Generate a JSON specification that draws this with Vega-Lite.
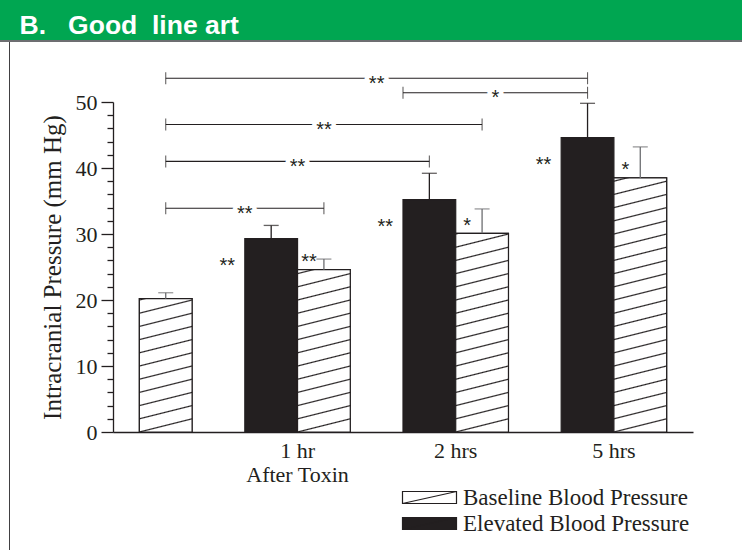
{
  "$schema": "https://vega.github.io/schema/vega-lite/v6.json",
  "padding": 0,
  "background": "#ffffff",
  "spacing": 0,
  "config": {"view": {"stroke": null}, "font": "Liberation Serif"},
  "datasets": {
    "bars": [
      {"time": "Baseline", "type": "Baseline Blood Pressure", "bar": "Baseline", "value": 20.2, "upper": 21.1, "sig": ""},
      {"time": "1 hr", "type": "Elevated Blood Pressure", "bar": "1 hr Elevated", "value": 29.3, "upper": 31.3, "sig": "**"},
      {"time": "1 hr", "type": "Baseline Blood Pressure", "bar": "1 hr Baseline", "value": 24.6, "upper": 26.2, "sig": "**"},
      {"time": "2 hrs", "type": "Elevated Blood Pressure", "bar": "2 hrs Elevated", "value": 35.2, "upper": 39.2, "sig": "**"},
      {"time": "2 hrs", "type": "Baseline Blood Pressure", "bar": "2 hrs Baseline", "value": 30.1, "upper": 33.8, "sig": "*"},
      {"time": "5 hrs", "type": "Elevated Blood Pressure", "bar": "5 hrs Elevated", "value": 44.6, "upper": 49.8, "sig": "**"},
      {"time": "5 hrs", "type": "Baseline Blood Pressure", "bar": "5 hrs Baseline", "value": 38.5, "upper": 43.2, "sig": "*"}
    ],
    "brackets": [
      {"id": 1, "from": "Baseline", "to": "5 hrs Elevated", "level": 53.6, "sig": "**", "labelAt": "gap 2"},
      {"id": 2, "from": "2 hrs Elevated", "to": "5 hrs Elevated", "level": 51.4, "sig": "*", "labelAt": "2 hrs Baseline"},
      {"id": 3, "from": "Baseline", "to": "2 hrs Baseline", "level": 46.6, "sig": "**", "labelAt": "1 hr Baseline"},
      {"id": 4, "from": "Baseline", "to": "2 hrs Elevated", "level": 41.0, "sig": "**", "labelAt": "1 hr Elevated"},
      {"id": 5, "from": "Baseline", "to": "1 hr Baseline", "level": 33.9, "sig": "**", "labelAt": "gap 1"}
    ]
  },
  "vconcat": [
    {
      "width": 742,
      "height": 42,
      "view": {"fill": {"gradient": "linear", "x1": 0, "y1": 0, "x2": 0, "y2": 1, "stops": [{"offset": 0, "color": "#00a651"}, {"offset": 0.952, "color": "#00a651"}, {"offset": 0.952, "color": "#6d6e71"}, {"offset": 1, "color": "#6d6e71"}]}},
      "data": {"values": []},
      "mark": "point",
      "encoding": {
        "x": {"field": "h", "type": "quantitative", "scale": {"domain": [0, 1]},
          "axis": {"orient": "top", "domain": false, "ticks": false, "labels": false, "grid": false, "title": "B.\u00a0\u00a0\u00a0Good\u00a0\u00a0line art", "titleFont": "Liberation Sans", "titleFontSize": 26.5, "titleFontWeight": "bold", "titleColor": "#ffffff", "titleAlign": "left", "titleAnchor": "start", "titleBaseline": "alphabetic", "titleX": 19, "titleY": 33, "titlePadding": 0}}
      }
    },
    {
      "spacing": 29,
      "hconcat": [
        {
          "width": 11,
          "height": 508,
          "view": {"fill": {"gradient": "linear", "x1": 0, "y1": 0, "x2": 1, "y2": 0, "stops": [{"offset": 0, "color": "#ffffff"}, {"offset": 0.8, "color": "#ffffff"}, {"offset": 0.8, "color": "#414042"}, {"offset": 0.93, "color": "#414042"}, {"offset": 0.93, "color": "#ffffff"}, {"offset": 1, "color": "#ffffff"}]}},
          "data": {"values": []},
          "mark": "rect"
        },
        {
          "spacing": 0,
          "vconcat": [
            {"width": 1, "height": 30, "data": {"values": []}, "mark": "rect"},
            {
              "width": 580,
              "height": 330,
              "resolve": {"axis": {"y": "independent"}},
              "layer": [
                {
                  "data": {"name": "bars"},
                  "mark": {"type": "bar", "stroke": "#231f20", "strokeWidth": 1.2},
                  "encoding": {
                    "x": {"field": "bar", "type": "nominal", "scale": {"type": "band", "domain": ["Baseline", "gap 1", "1 hr Elevated", "1 hr Baseline", "gap 2", "2 hrs Elevated", "2 hrs Baseline", "gap 3", "5 hrs Elevated", "5 hrs Baseline"], "paddingInner": 0, "paddingOuter": 0.5},
                      "axis": {"title": null, "values": ["1 hr Elevated", "2 hrs Elevated", "5 hrs Elevated"], "labelExpr": "datum.value === '1 hr Elevated' ? ['1 hr', 'After Toxin'] : replace(datum.value, ' Elevated', '')", "labelOffset": 26.36, "ticks": false, "labelAngle": 0, "labelFont": "Liberation Serif", "labelFontSize": 22, "labelColor": "#231f20", "labelPadding": 8, "labelLineHeight": 24, "labelBaseline": "top", "domainColor": "#231f20", "domainWidth": 1.3}},
                    "y": {"field": "value", "type": "quantitative", "scale": {"domain": [0, 50], "nice": false},
                      "axis": {"orient": "left", "title": "Intracranial Pressure (mm Hg)", "values": [0, 2, 4, 6, 8, 10, 12, 14, 16, 18, 20, 22, 24, 26, 28, 30, 32, 34, 36, 38, 40, 42, 44, 46, 48, 50], "labelExpr": "datum.value % 10 === 0 ? datum.label : ''", "labelOverlap": false, "labelFlush": false, "labelBound": false, "grid": false, "tickSize": 12, "tickDash": {"condition": {"test": "datum.value % 10 !== 0", "value": [6, 40]}, "value": [40, 0]}, "tickColor": "#231f20", "tickWidth": 1.3, "domainColor": "#231f20", "domainWidth": 1.3, "labelFont": "Liberation Serif", "labelFontSize": 22, "labelColor": "#231f20", "labelPadding": 4, "titleFont": "Liberation Serif", "titleFontSize": 25, "titleFontWeight": "normal", "titleColor": "#231f20", "titlePadding": 10}},
                    "color": {"field": "type", "type": "nominal", "scale": {"domain": ["Baseline Blood Pressure", "Elevated Blood Pressure"], "range": ["#ffffff", "#231f20"]},
                      "legend": {"title": null, "orient": "none", "legendX": 439, "legendY": 486, "direction": "vertical", "symbolType": "M-8,-1H1V1H-8Z M-8,1L1,-1", "symbolSize": 144, "symbolStrokeColor": "#231f20", "symbolStrokeWidth": 1.2, "labelFont": "Liberation Serif", "labelFontSize": 23, "labelColor": "#231f20", "labelOffset": 1, "labelLimit": 0, "rowPadding": 2, "padding": 0}}
                  }
                },
                {
                  "data": {"name": "bars"},
                  "transform": [{"filter": {"field": "bar", "equal": "Baseline"}}],
                  "mark": {"type": "bar", "stroke": "#231f20", "strokeWidth": 1.2, "fill": {"gradient": "linear", "x1": 0, "y1": 1.09901, "x2": -0.10776, "y2": 0.01067, "stops": [
                    {"offset": 0, "color": "#ffffff"},
                    {"offset": 0.0819, "color": "#ffffff"}, {"offset": 0.0901, "color": "#231f20"}, {"offset": 0.0983, "color": "#ffffff"},
                    {"offset": 0.1720, "color": "#ffffff"}, {"offset": 0.1802, "color": "#231f20"}, {"offset": 0.1884, "color": "#ffffff"},
                    {"offset": 0.2621, "color": "#ffffff"}, {"offset": 0.2703, "color": "#231f20"}, {"offset": 0.2785, "color": "#ffffff"},
                    {"offset": 0.3522, "color": "#ffffff"}, {"offset": 0.3604, "color": "#231f20"}, {"offset": 0.3686, "color": "#ffffff"},
                    {"offset": 0.4423, "color": "#ffffff"}, {"offset": 0.4505, "color": "#231f20"}, {"offset": 0.4587, "color": "#ffffff"},
                    {"offset": 0.5323, "color": "#ffffff"}, {"offset": 0.5405, "color": "#231f20"}, {"offset": 0.5487, "color": "#ffffff"},
                    {"offset": 0.6224, "color": "#ffffff"}, {"offset": 0.6306, "color": "#231f20"}, {"offset": 0.6388, "color": "#ffffff"},
                    {"offset": 0.7125, "color": "#ffffff"}, {"offset": 0.7207, "color": "#231f20"}, {"offset": 0.7289, "color": "#ffffff"},
                    {"offset": 0.8026, "color": "#ffffff"}, {"offset": 0.8108, "color": "#231f20"}, {"offset": 0.8190, "color": "#ffffff"},
                    {"offset": 0.8927, "color": "#ffffff"}, {"offset": 0.9009, "color": "#231f20"}, {"offset": 0.9091, "color": "#ffffff"},
                    {"offset": 0.9828, "color": "#ffffff"}, {"offset": 0.9910, "color": "#231f20"}, {"offset": 0.9992, "color": "#ffffff"}]}},
                  "encoding": {
                    "x": {"field": "bar", "type": "nominal", "scale": {"type": "band", "domain": ["Baseline", "gap 1", "1 hr Elevated", "1 hr Baseline", "gap 2", "2 hrs Elevated", "2 hrs Baseline", "gap 3", "5 hrs Elevated", "5 hrs Baseline"], "paddingInner": 0, "paddingOuter": 0.5}},
                    "y": {"field": "value", "type": "quantitative", "scale": {"domain": [0, 50], "nice": false}, "axis": null}
                  }
                },
                {
                  "data": {"name": "bars"},
                  "transform": [{"filter": {"field": "bar", "equal": "1 hr Baseline"}}],
                  "mark": {"type": "bar", "stroke": "#231f20", "strokeWidth": 1.2, "fill": {"gradient": "linear", "x1": 0, "y1": 1.081301, "x2": -0.087333, "y2": 0.0071, "stops": [
                    {"offset": 0, "color": "#ffffff"},
                    {"offset": 0.0684, "color": "#ffffff"}, {"offset": 0.0752, "color": "#231f20"}, {"offset": 0.0820, "color": "#ffffff"},
                    {"offset": 0.1436, "color": "#ffffff"}, {"offset": 0.1504, "color": "#231f20"}, {"offset": 0.1572, "color": "#ffffff"},
                    {"offset": 0.2188, "color": "#ffffff"}, {"offset": 0.2256, "color": "#231f20"}, {"offset": 0.2324, "color": "#ffffff"},
                    {"offset": 0.2940, "color": "#ffffff"}, {"offset": 0.3008, "color": "#231f20"}, {"offset": 0.3076, "color": "#ffffff"},
                    {"offset": 0.3691, "color": "#ffffff"}, {"offset": 0.3759, "color": "#231f20"}, {"offset": 0.3827, "color": "#ffffff"},
                    {"offset": 0.4443, "color": "#ffffff"}, {"offset": 0.4511, "color": "#231f20"}, {"offset": 0.4579, "color": "#ffffff"},
                    {"offset": 0.5195, "color": "#ffffff"}, {"offset": 0.5263, "color": "#231f20"}, {"offset": 0.5331, "color": "#ffffff"},
                    {"offset": 0.5947, "color": "#ffffff"}, {"offset": 0.6015, "color": "#231f20"}, {"offset": 0.6083, "color": "#ffffff"},
                    {"offset": 0.6699, "color": "#ffffff"}, {"offset": 0.6767, "color": "#231f20"}, {"offset": 0.6835, "color": "#ffffff"},
                    {"offset": 0.7451, "color": "#ffffff"}, {"offset": 0.7519, "color": "#231f20"}, {"offset": 0.7587, "color": "#ffffff"},
                    {"offset": 0.8203, "color": "#ffffff"}, {"offset": 0.8271, "color": "#231f20"}, {"offset": 0.8339, "color": "#ffffff"},
                    {"offset": 0.8955, "color": "#ffffff"}, {"offset": 0.9023, "color": "#231f20"}, {"offset": 0.9091, "color": "#ffffff"},
                    {"offset": 0.9706, "color": "#ffffff"}, {"offset": 0.9774, "color": "#231f20"}, {"offset": 0.9842, "color": "#ffffff"}]}},
                  "encoding": {
                    "x": {"field": "bar", "type": "nominal", "scale": {"type": "band", "domain": ["Baseline", "gap 1", "1 hr Elevated", "1 hr Baseline", "gap 2", "2 hrs Elevated", "2 hrs Baseline", "gap 3", "5 hrs Elevated", "5 hrs Baseline"], "paddingInner": 0, "paddingOuter": 0.5}},
                    "y": {"field": "value", "type": "quantitative", "scale": {"domain": [0, 50], "nice": false}, "axis": null}
                  }
                },
                {
                  "data": {"name": "bars"},
                  "transform": [{"filter": {"field": "bar", "equal": "2 hrs Baseline"}}],
                  "mark": {"type": "bar", "stroke": "#231f20", "strokeWidth": 1.2, "fill": {"gradient": "linear", "x1": 0, "y1": 1.066445, "x2": -0.070549, "y2": 0.004688, "stops": [
                    {"offset": 0, "color": "#ffffff"},
                    {"offset": 0.0566, "color": "#ffffff"}, {"offset": 0.0623, "color": "#231f20"}, {"offset": 0.0680, "color": "#ffffff"},
                    {"offset": 0.1189, "color": "#ffffff"}, {"offset": 0.1246, "color": "#231f20"}, {"offset": 0.1303, "color": "#ffffff"},
                    {"offset": 0.1812, "color": "#ffffff"}, {"offset": 0.1869, "color": "#231f20"}, {"offset": 0.1926, "color": "#ffffff"},
                    {"offset": 0.2435, "color": "#ffffff"}, {"offset": 0.2492, "color": "#231f20"}, {"offset": 0.2549, "color": "#ffffff"},
                    {"offset": 0.3058, "color": "#ffffff"}, {"offset": 0.3115, "color": "#231f20"}, {"offset": 0.3172, "color": "#ffffff"},
                    {"offset": 0.3681, "color": "#ffffff"}, {"offset": 0.3738, "color": "#231f20"}, {"offset": 0.3795, "color": "#ffffff"},
                    {"offset": 0.4304, "color": "#ffffff"}, {"offset": 0.4361, "color": "#231f20"}, {"offset": 0.4418, "color": "#ffffff"},
                    {"offset": 0.4927, "color": "#ffffff"}, {"offset": 0.4984, "color": "#231f20"}, {"offset": 0.5041, "color": "#ffffff"},
                    {"offset": 0.5550, "color": "#ffffff"}, {"offset": 0.5607, "color": "#231f20"}, {"offset": 0.5664, "color": "#ffffff"},
                    {"offset": 0.6174, "color": "#ffffff"}, {"offset": 0.6231, "color": "#231f20"}, {"offset": 0.6288, "color": "#ffffff"},
                    {"offset": 0.6797, "color": "#ffffff"}, {"offset": 0.6854, "color": "#231f20"}, {"offset": 0.6911, "color": "#ffffff"},
                    {"offset": 0.7420, "color": "#ffffff"}, {"offset": 0.7477, "color": "#231f20"}, {"offset": 0.7534, "color": "#ffffff"},
                    {"offset": 0.8043, "color": "#ffffff"}, {"offset": 0.8100, "color": "#231f20"}, {"offset": 0.8157, "color": "#ffffff"},
                    {"offset": 0.8666, "color": "#ffffff"}, {"offset": 0.8723, "color": "#231f20"}, {"offset": 0.8780, "color": "#ffffff"},
                    {"offset": 0.9289, "color": "#ffffff"}, {"offset": 0.9346, "color": "#231f20"}, {"offset": 0.9403, "color": "#ffffff"},
                    {"offset": 0.9912, "color": "#ffffff"}, {"offset": 0.9969, "color": "#231f20"}, {"offset": 1, "color": "#ffffff"}]}},
                  "encoding": {
                    "x": {"field": "bar", "type": "nominal", "scale": {"type": "band", "domain": ["Baseline", "gap 1", "1 hr Elevated", "1 hr Baseline", "gap 2", "2 hrs Elevated", "2 hrs Baseline", "gap 3", "5 hrs Elevated", "5 hrs Baseline"], "paddingInner": 0, "paddingOuter": 0.5}},
                    "y": {"field": "value", "type": "quantitative", "scale": {"domain": [0, 50], "nice": false}, "axis": null}
                  }
                },
                {
                  "data": {"name": "bars"},
                  "transform": [{"filter": {"field": "bar", "equal": "5 hrs Baseline"}}],
                  "mark": {"type": "bar", "stroke": "#231f20", "strokeWidth": 1.2, "fill": {"gradient": "linear", "x1": 0, "y1": 1.051948, "x2": -0.0545, "y2": 0.002831, "stops": [
                    {"offset": 0, "color": "#ffffff"},
                    {"offset": 0.0449, "color": "#ffffff"}, {"offset": 0.0494, "color": "#231f20"}, {"offset": 0.0539, "color": "#ffffff"},
                    {"offset": 0.0943, "color": "#ffffff"}, {"offset": 0.0988, "color": "#231f20"}, {"offset": 0.1033, "color": "#ffffff"},
                    {"offset": 0.1436, "color": "#ffffff"}, {"offset": 0.1481, "color": "#231f20"}, {"offset": 0.1526, "color": "#ffffff"},
                    {"offset": 0.1930, "color": "#ffffff"}, {"offset": 0.1975, "color": "#231f20"}, {"offset": 0.2020, "color": "#ffffff"},
                    {"offset": 0.2424, "color": "#ffffff"}, {"offset": 0.2469, "color": "#231f20"}, {"offset": 0.2514, "color": "#ffffff"},
                    {"offset": 0.2918, "color": "#ffffff"}, {"offset": 0.2963, "color": "#231f20"}, {"offset": 0.3008, "color": "#ffffff"},
                    {"offset": 0.3412, "color": "#ffffff"}, {"offset": 0.3457, "color": "#231f20"}, {"offset": 0.3502, "color": "#ffffff"},
                    {"offset": 0.3906, "color": "#ffffff"}, {"offset": 0.3951, "color": "#231f20"}, {"offset": 0.3996, "color": "#ffffff"},
                    {"offset": 0.4399, "color": "#ffffff"}, {"offset": 0.4444, "color": "#231f20"}, {"offset": 0.4489, "color": "#ffffff"},
                    {"offset": 0.4893, "color": "#ffffff"}, {"offset": 0.4938, "color": "#231f20"}, {"offset": 0.4983, "color": "#ffffff"},
                    {"offset": 0.5387, "color": "#ffffff"}, {"offset": 0.5432, "color": "#231f20"}, {"offset": 0.5477, "color": "#ffffff"},
                    {"offset": 0.5881, "color": "#ffffff"}, {"offset": 0.5926, "color": "#231f20"}, {"offset": 0.5971, "color": "#ffffff"},
                    {"offset": 0.6375, "color": "#ffffff"}, {"offset": 0.6420, "color": "#231f20"}, {"offset": 0.6465, "color": "#ffffff"},
                    {"offset": 0.6869, "color": "#ffffff"}, {"offset": 0.6914, "color": "#231f20"}, {"offset": 0.6959, "color": "#ffffff"},
                    {"offset": 0.7362, "color": "#ffffff"}, {"offset": 0.7407, "color": "#231f20"}, {"offset": 0.7452, "color": "#ffffff"},
                    {"offset": 0.7856, "color": "#ffffff"}, {"offset": 0.7901, "color": "#231f20"}, {"offset": 0.7946, "color": "#ffffff"},
                    {"offset": 0.8350, "color": "#ffffff"}, {"offset": 0.8395, "color": "#231f20"}, {"offset": 0.8440, "color": "#ffffff"},
                    {"offset": 0.8844, "color": "#ffffff"}, {"offset": 0.8889, "color": "#231f20"}, {"offset": 0.8934, "color": "#ffffff"},
                    {"offset": 0.9338, "color": "#ffffff"}, {"offset": 0.9383, "color": "#231f20"}, {"offset": 0.9428, "color": "#ffffff"},
                    {"offset": 0.9832, "color": "#ffffff"}, {"offset": 0.9877, "color": "#231f20"}, {"offset": 0.9922, "color": "#ffffff"}]}},
                  "encoding": {
                    "x": {"field": "bar", "type": "nominal", "scale": {"type": "band", "domain": ["Baseline", "gap 1", "1 hr Elevated", "1 hr Baseline", "gap 2", "2 hrs Elevated", "2 hrs Baseline", "gap 3", "5 hrs Elevated", "5 hrs Baseline"], "paddingInner": 0, "paddingOuter": 0.5}},
                    "y": {"field": "value", "type": "quantitative", "scale": {"domain": [0, 50], "nice": false}, "axis": null}
                  }
                },
                {
                  "data": {"name": "bars"},
                  "mark": {"type": "rule", "strokeWidth": 1.3},
                  "encoding": {
                    "x": {"field": "bar", "type": "nominal", "scale": {"type": "band", "domain": ["Baseline", "gap 1", "1 hr Elevated", "1 hr Baseline", "gap 2", "2 hrs Elevated", "2 hrs Baseline", "gap 3", "5 hrs Elevated", "5 hrs Baseline"], "paddingInner": 0, "paddingOuter": 0.5}},
                    "y": {"field": "value", "type": "quantitative", "scale": {"domain": [0, 50], "nice": false}, "axis": null},
                    "y2": {"field": "upper"},
                    "color": {"condition": {"test": "datum.type === 'Baseline Blood Pressure'", "value": "#6d6e71"}, "value": "#231f20"}
                  }
                },
                {
                  "data": {"name": "bars"},
                  "mark": {"type": "tick", "size": 15, "thickness": 1.3},
                  "encoding": {
                    "x": {"field": "bar", "type": "nominal", "scale": {"type": "band", "domain": ["Baseline", "gap 1", "1 hr Elevated", "1 hr Baseline", "gap 2", "2 hrs Elevated", "2 hrs Baseline", "gap 3", "5 hrs Elevated", "5 hrs Baseline"], "paddingInner": 0, "paddingOuter": 0.5}},
                    "y": {"field": "upper", "type": "quantitative", "scale": {"domain": [0, 50], "nice": false}, "axis": null},
                    "color": {"condition": {"test": "datum.type === 'Baseline Blood Pressure'", "value": "#6d6e71"}, "value": "#231f20"}
                  }
                },
                {
                  "data": {"name": "bars"},
                  "transform": [{"filter": "datum.type === 'Elevated Blood Pressure'"}],
                  "mark": {"type": "text", "font": "Liberation Sans", "fontSize": 20, "baseline": "middle", "align": "center", "dx": -44, "dy": 27.5, "color": "#231f20"},
                  "encoding": {
                    "x": {"field": "bar", "type": "nominal", "scale": {"type": "band", "domain": ["Baseline", "gap 1", "1 hr Elevated", "1 hr Baseline", "gap 2", "2 hrs Elevated", "2 hrs Baseline", "gap 3", "5 hrs Elevated", "5 hrs Baseline"], "paddingInner": 0, "paddingOuter": 0.5}},
                    "y": {"field": "value", "type": "quantitative", "scale": {"domain": [0, 50], "nice": false}, "axis": null},
                    "text": {"field": "sig"}
                  }
                },
                {
                  "data": {"name": "bars"},
                  "transform": [{"filter": "datum.type === 'Baseline Blood Pressure' && datum.sig !== ''"}],
                  "mark": {"type": "text", "font": "Liberation Sans", "fontSize": 20, "baseline": "middle", "align": "center", "dx": -15, "dy": -7.5, "color": "#231f20"},
                  "encoding": {
                    "x": {"field": "bar", "type": "nominal", "scale": {"type": "band", "domain": ["Baseline", "gap 1", "1 hr Elevated", "1 hr Baseline", "gap 2", "2 hrs Elevated", "2 hrs Baseline", "gap 3", "5 hrs Elevated", "5 hrs Baseline"], "paddingInner": 0, "paddingOuter": 0.5}},
                    "y": {"field": "value", "type": "quantitative", "scale": {"domain": [0, 50], "nice": false}, "axis": null},
                    "text": {"field": "sig"}
                  }
                },
                {
                  "data": {"name": "brackets"},
                  "transform": [{"filter": "datum.id !== 2"}],
                  "mark": {"type": "rule", "strokeWidth": 1.1, "color": "#231f20"},
                  "encoding": {
                    "x": {"field": "from", "type": "nominal", "scale": {"type": "band", "domain": ["Baseline", "gap 1", "1 hr Elevated", "1 hr Baseline", "gap 2", "2 hrs Elevated", "2 hrs Baseline", "gap 3", "5 hrs Elevated", "5 hrs Baseline"], "paddingInner": 0, "paddingOuter": 0.5}},
                    "x2": {"field": "to"},
                    "y": {"field": "level", "type": "quantitative", "scale": {"domain": [0, 50], "nice": false}, "axis": null}
                  }
                },
                {
                  "data": {"name": "brackets"},
                  "transform": [{"filter": "datum.id === 2"}],
                  "mark": {"type": "rule", "strokeWidth": 1.1, "color": "#231f20"},
                  "encoding": {
                    "x": {"field": "from", "type": "nominal", "bandPosition": 0, "scale": {"type": "band", "domain": ["Baseline", "gap 1", "1 hr Elevated", "1 hr Baseline", "gap 2", "2 hrs Elevated", "2 hrs Baseline", "gap 3", "5 hrs Elevated", "5 hrs Baseline"], "paddingInner": 0, "paddingOuter": 0.5}},
                    "x2": {"field": "to"},
                    "y": {"field": "level", "type": "quantitative", "scale": {"domain": [0, 50], "nice": false}, "axis": null}
                  }
                },
                {
                  "data": {"name": "brackets"},
                  "transform": [{"fold": ["from", "to"], "as": ["end", "pos"]}, {"filter": "datum.id !== 2 || datum.end === 'to'"}],
                  "mark": {"type": "tick", "orient": "vertical", "size": 12, "thickness": 1.1, "color": "#231f20"},
                  "encoding": {
                    "x": {"field": "pos", "type": "nominal", "scale": {"type": "band", "domain": ["Baseline", "gap 1", "1 hr Elevated", "1 hr Baseline", "gap 2", "2 hrs Elevated", "2 hrs Baseline", "gap 3", "5 hrs Elevated", "5 hrs Baseline"], "paddingInner": 0, "paddingOuter": 0.5}},
                    "y": {"field": "level", "type": "quantitative", "scale": {"domain": [0, 50], "nice": false}, "axis": null}
                  }
                },
                {
                  "data": {"name": "brackets"},
                  "transform": [{"filter": "datum.id === 2"}],
                  "mark": {"type": "tick", "orient": "vertical", "size": 12, "thickness": 1.1, "color": "#231f20"},
                  "encoding": {
                    "x": {"field": "from", "type": "nominal", "bandPosition": 0, "scale": {"type": "band", "domain": ["Baseline", "gap 1", "1 hr Elevated", "1 hr Baseline", "gap 2", "2 hrs Elevated", "2 hrs Baseline", "gap 3", "5 hrs Elevated", "5 hrs Baseline"], "paddingInner": 0, "paddingOuter": 0.5}},
                    "y": {"field": "level", "type": "quantitative", "scale": {"domain": [0, 50], "nice": false}, "axis": null}
                  }
                },
                {
                  "data": {"name": "brackets"},
                  "transform": [{"filter": "datum.id === 1 || datum.id === 3"}],
                  "mark": {"type": "text", "font": "Liberation Sans", "fontSize": 20, "baseline": "middle", "align": "center", "dy": 5.5, "fill": "#ffffff", "stroke": "#ffffff", "strokeWidth": 9, "strokeJoin": "round"},
                  "encoding": {
                    "x": {"field": "labelAt", "type": "nominal", "bandPosition": 0.5, "scale": {"type": "band", "domain": ["Baseline", "gap 1", "1 hr Elevated", "1 hr Baseline", "gap 2", "2 hrs Elevated", "2 hrs Baseline", "gap 3", "5 hrs Elevated", "5 hrs Baseline"], "paddingInner": 0, "paddingOuter": 0.5}},
                    "y": {"field": "level", "type": "quantitative", "scale": {"domain": [0, 50], "nice": false}, "axis": null},
                    "text": {"field": "sig"}
                  }
                },
                {
                  "data": {"name": "brackets"},
                  "transform": [{"filter": "datum.id === 1 || datum.id === 3"}],
                  "mark": {"type": "text", "font": "Liberation Sans", "fontSize": 20, "baseline": "middle", "align": "center", "dy": 5.5, "color": "#231f20"},
                  "encoding": {
                    "x": {"field": "labelAt", "type": "nominal", "bandPosition": 0.5, "scale": {"type": "band", "domain": ["Baseline", "gap 1", "1 hr Elevated", "1 hr Baseline", "gap 2", "2 hrs Elevated", "2 hrs Baseline", "gap 3", "5 hrs Elevated", "5 hrs Baseline"], "paddingInner": 0, "paddingOuter": 0.5}},
                    "y": {"field": "level", "type": "quantitative", "scale": {"domain": [0, 50], "nice": false}, "axis": null},
                    "text": {"field": "sig"}
                  }
                },
                {
                  "data": {"name": "brackets"},
                  "transform": [{"filter": "datum.id === 4 || datum.id === 5"}],
                  "mark": {"type": "text", "font": "Liberation Sans", "fontSize": 20, "baseline": "middle", "align": "center", "dy": 5.5, "fill": "#ffffff", "stroke": "#ffffff", "strokeWidth": 9, "strokeJoin": "round"},
                  "encoding": {
                    "x": {"field": "labelAt", "type": "nominal", "bandPosition": 1, "scale": {"type": "band", "domain": ["Baseline", "gap 1", "1 hr Elevated", "1 hr Baseline", "gap 2", "2 hrs Elevated", "2 hrs Baseline", "gap 3", "5 hrs Elevated", "5 hrs Baseline"], "paddingInner": 0, "paddingOuter": 0.5}},
                    "y": {"field": "level", "type": "quantitative", "scale": {"domain": [0, 50], "nice": false}, "axis": null},
                    "text": {"field": "sig"}
                  }
                },
                {
                  "data": {"name": "brackets"},
                  "transform": [{"filter": "datum.id === 4 || datum.id === 5"}],
                  "mark": {"type": "text", "font": "Liberation Sans", "fontSize": 20, "baseline": "middle", "align": "center", "dy": 5.5, "color": "#231f20"},
                  "encoding": {
                    "x": {"field": "labelAt", "type": "nominal", "bandPosition": 1, "scale": {"type": "band", "domain": ["Baseline", "gap 1", "1 hr Elevated", "1 hr Baseline", "gap 2", "2 hrs Elevated", "2 hrs Baseline", "gap 3", "5 hrs Elevated", "5 hrs Baseline"], "paddingInner": 0, "paddingOuter": 0.5}},
                    "y": {"field": "level", "type": "quantitative", "scale": {"domain": [0, 50], "nice": false}, "axis": null},
                    "text": {"field": "sig"}
                  }
                },
                {
                  "data": {"name": "brackets"},
                  "transform": [{"filter": "datum.id === 2"}],
                  "mark": {"type": "text", "font": "Liberation Sans", "fontSize": 20, "baseline": "middle", "align": "center", "dy": 5.5, "fill": "#ffffff", "stroke": "#ffffff", "strokeWidth": 9, "strokeJoin": "round"},
                  "encoding": {
                    "x": {"field": "labelAt", "type": "nominal", "bandPosition": 0.75, "scale": {"type": "band", "domain": ["Baseline", "gap 1", "1 hr Elevated", "1 hr Baseline", "gap 2", "2 hrs Elevated", "2 hrs Baseline", "gap 3", "5 hrs Elevated", "5 hrs Baseline"], "paddingInner": 0, "paddingOuter": 0.5}},
                    "y": {"field": "level", "type": "quantitative", "scale": {"domain": [0, 50], "nice": false}, "axis": null},
                    "text": {"field": "sig"}
                  }
                },
                {
                  "data": {"name": "brackets"},
                  "transform": [{"filter": "datum.id === 2"}],
                  "mark": {"type": "text", "font": "Liberation Sans", "fontSize": 20, "baseline": "middle", "align": "center", "dy": 5.5, "color": "#231f20"},
                  "encoding": {
                    "x": {"field": "labelAt", "type": "nominal", "bandPosition": 0.75, "scale": {"type": "band", "domain": ["Baseline", "gap 1", "1 hr Elevated", "1 hr Baseline", "gap 2", "2 hrs Elevated", "2 hrs Baseline", "gap 3", "5 hrs Elevated", "5 hrs Baseline"], "paddingInner": 0, "paddingOuter": 0.5}},
                    "y": {"field": "level", "type": "quantitative", "scale": {"domain": [0, 50], "nice": false}, "axis": null},
                    "text": {"field": "sig"}
                  }
                }
              ]
            }
          ]
        }
      ]
    }
  ]
}
